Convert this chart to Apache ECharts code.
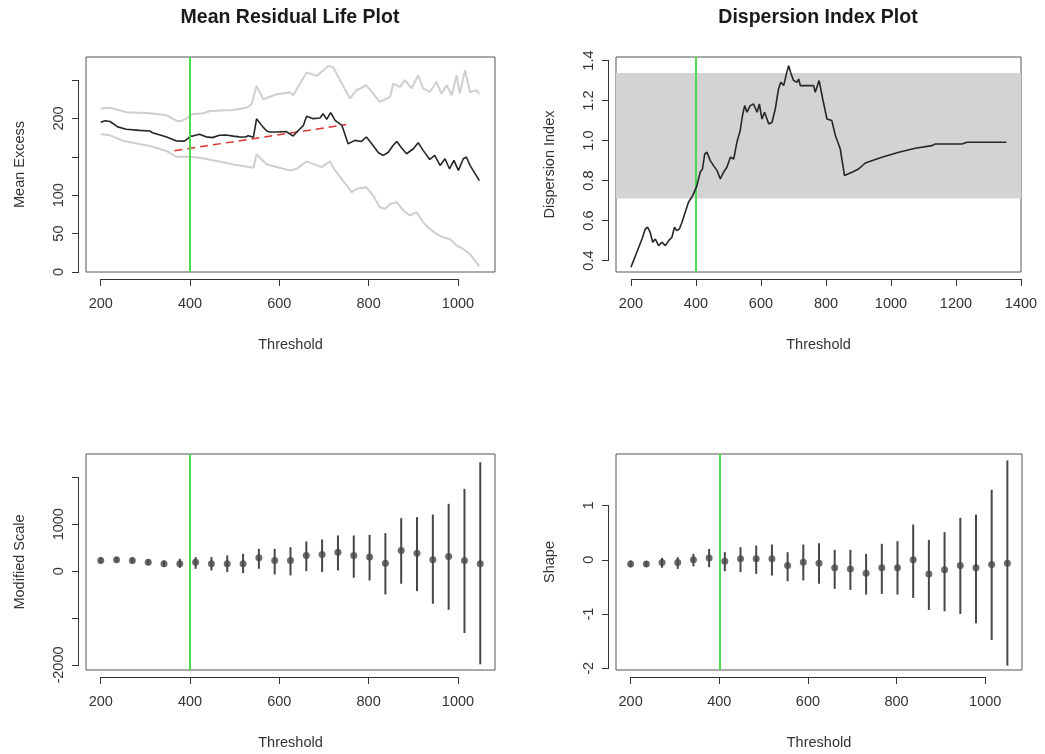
<!DOCTYPE html>
<html>
<head>
<meta charset="utf-8">
<script src="https://cdn.jsdelivr.net/npm/echarts@6.0.0/dist/echarts.min.js"></script>
<style>
  html, body { margin: 0; padding: 0; background: #ffffff; }
  #chart { width: 1045px; height: 754px; }
</style>
</head>
<body>
<div id="chart"></div>
<script>
// ---------- Mean residual life (mean excess over threshold) ----------
const mrlMeanX = [200, 210, 221, 238, 251, 257, 287, 310, 316, 346, 370, 387, 395, 400, 406, 421, 436, 450, 466, 480, 497, 510, 525, 530, 542,
  549, 563, 572, 578, 601, 615, 631, 639, 654, 661, 676, 691, 698, 706, 715, 725, 740, 754, 769, 784, 795, 807, 822, 833, 844, 855,
  863, 874, 885, 900, 911, 922, 937, 948, 960, 971, 981, 991, 1001, 1012, 1019, 1027, 1048];
const mrlMeanY = [195, 197, 196, 189, 187, 186, 184.5, 183.6, 181.4, 176, 170.6, 170.4, 173.6, 177, 177, 179.5, 176, 175, 178, 178.5, 177, 176, 175.8, 177.5, 175.5,
  199.5, 189, 183.6, 182.3, 182.5, 183, 177, 182.3, 191, 202.8, 199.7, 200.6, 206.2, 198.8, 207.5, 197.5, 191, 167, 171.4, 170, 175.8, 167, 155.3, 151.8, 156, 165,
  170, 161.4, 154, 160.5, 168.4, 158.4, 146.6, 151.8, 138.8, 147.5, 134.4, 145.3, 132.3, 147.5, 149.7, 138.8, 119];

const mrlUpperX = [200, 221, 258, 310, 348, 370, 381, 392, 404, 430, 445, 497, 527, 538, 549, 564, 594, 624, 631, 661, 684, 710, 721,
  758, 773, 795, 807, 825, 848, 855, 870, 881, 896, 911, 922, 937, 952, 963, 975, 986, 997, 1004, 1016, 1027, 1042, 1048];
const mrlUpperY = [212.8, 214, 208, 206.7, 204, 196.7, 196.7, 199.7, 205.4, 206.7, 209.7, 211, 214, 218.4, 242.4, 225, 231.5, 233.7, 230.2, 259.8, 255.4, 268.5, 266.3,
  225.8, 236.7, 243.2, 234.5, 221.5, 228, 245.4, 241, 249.8, 239, 256.3, 239, 234.5, 247.6, 232.3, 243.2, 230.2, 256.3, 232.3, 262.8, 234.5, 236.7, 232];

const mrlLowerX = [200, 221, 251, 310, 348, 370, 393, 422, 460, 497, 542, 549, 572, 624, 639, 661, 684, 695, 713, 725, 762, 773, 795,
  810, 825, 837, 848, 863, 878, 892, 907, 922, 937, 952, 967, 982, 997, 1012, 1027, 1048];
const mrlLowerY = [179.3, 178, 170.6, 164, 157.5, 150, 150, 148.8, 144.5, 140, 135.7, 153, 140, 132.3, 134.4, 144, 138.8, 136.6, 144, 132.3, 104, 108.3, 110.5,
  99.6, 84.4, 82.2, 88.7, 90.9, 80, 73.5, 77.8, 64.8, 56.1, 49.6, 45.2, 43, 34.3, 30, 23.4, 7.4];

// linear fit above the chosen threshold
const mrlFitX = [365, 750];
const mrlFitY = [158, 192];

// ---------- Dispersion index ----------
const diX = [200, 218, 234, 244, 251, 259, 267, 275, 285, 295, 306, 316, 326, 334, 341, 349, 357, 367, 377, 390, 403, 413, 420, 427, 434,
  444, 454, 465, 475, 485, 495, 506, 516, 526, 536, 544, 550, 557, 567, 577, 588, 595, 603, 611, 624, 634, 644, 654, 661, 670, 677,
  685, 691, 700, 711, 716, 721, 762, 767, 772, 779, 790, 803, 818, 829, 844, 857, 880, 900, 921, 972, 1024, 1075, 1126, 1136, 1218, 1234, 1355];
const diY = [0.367, 0.442, 0.508, 0.558, 0.567, 0.542, 0.492, 0.508, 0.475, 0.492, 0.475, 0.5, 0.517, 0.567, 0.55, 0.558, 0.592, 0.642, 0.692, 0.725, 0.775, 0.842, 0.858, 0.933, 0.942,
  0.9, 0.875, 0.85, 0.808, 0.842, 0.867, 0.917, 0.908, 0.992, 1.05, 1.133, 1.175, 1.142, 1.175, 1.183, 1.142, 1.183, 1.108, 1.142, 1.083, 1.092, 1.158, 1.258, 1.292, 1.275, 1.325,
  1.375, 1.342, 1.3, 1.292, 1.308, 1.275, 1.275, 1.242, 1.233, 1.3, 1.208, 1.108, 1.1, 1.025, 0.958, 0.825, 0.842, 0.858, 0.888, 0.917, 0.942, 0.962, 0.975, 0.983, 0.983, 0.992, 0.992];
const diBand = [0.71, 1.338];

// ---------- Parameter stability (fits over 25 thresholds) ----------
const fitThresholds = [200, 235.4, 270.8, 306.3, 341.7, 377.1, 412.5, 447.9, 483.3, 518.8, 554.2, 589.6, 625,
  660.4, 695.8, 731.3, 766.7, 802.1, 837.5, 872.9, 908.3, 943.8, 979.2, 1014.6, 1050];

const scaleEst = [228, 242, 228, 192, 157, 157, 192, 157, 157, 157, 285, 228, 228, 334, 356, 405, 334, 299, 171, 441, 384, 242, 313, 228, 157];
const scaleHi  = [290, 300, 290, 255, 225, 263, 299, 299, 334, 370, 476, 476, 511, 632, 675, 760, 760, 774, 809, 1128, 1150, 1207, 1434, 1753, 2320];
const scaleLo  = [166, 184, 166, 130, 90, 72, 51, 15, -20, -42, 51, -70, -91, 1, -20, 15, -141, -198, -496, -269, -425, -694, -822, -1318, -1985];

const shapeEst = [-0.075, -0.075, -0.05, -0.05, 0, 0.036, -0.025, 0.018, 0.018, 0.018, -0.105, -0.044, -0.062, -0.148, -0.167, -0.247, -0.148, -0.148, 0, -0.259, -0.185, -0.105, -0.148, -0.087, -0.062];
const shapeHi  = [-0.013, -0.02, 0.036, 0.048, 0.11, 0.2, 0.141, 0.233, 0.264, 0.282, 0.141, 0.282, 0.307, 0.184, 0.184, 0.11, 0.295, 0.344, 0.651, 0.368, 0.51, 0.774, 0.836, 1.291, 1.832];
const shapeLo  = [-0.136, -0.13, -0.146, -0.167, -0.12, -0.136, -0.21, -0.228, -0.259, -0.29, -0.394, -0.38, -0.443, -0.536, -0.554, -0.64, -0.628, -0.64, -0.702, -0.923, -0.948, -0.997, -1.169, -1.477, -1.95];

const chosenThreshold = 400;

// ---------- tick positions and labels ----------
const xTicks1000 = [200, 400, 600, 800, 1000];
const xTicks1400 = [200, 400, 600, 800, 1000, 1200, 1400];
const mrlYTicks = [0, 50, 100, 150, 200, 250];
const mrlYLabels = [0, 50, 100, 200];
const diYTicks = [0.4, 0.6, 0.8, 1.0, 1.2, 1.4];
const scaleYTicks = [-2000, -1000, 0, 1000, 2000];
const scaleYLabels = [-2000, 0, 1000];
const shapeYTicks = [-2, -1, 0, 1];

// ---------- styling ----------
const FONT = '"Liberation Sans", Arial, sans-serif';
const FS = 14.5;
const INK = '#333333';
const FRAME = '#555555';
const AXIS_OFFSET = 7;
const GREEN = '#4cdb4c';

const grids = [
  { left: 86, top: 57, width: 409, height: 215 },
  { left: 616, top: 57, width: 405, height: 215 },
  { left: 86, top: 454, width: 409, height: 216 },
  { left: 616, top: 454, width: 406, height: 216 }
].map(g => Object.assign({ show: true, borderColor: FRAME, borderWidth: 1, backgroundColor: 'transparent', containLabel: false }, g));

const zip = (xs, ys) => xs.map((x, i) => [x, ys[i]]);

function xAxisCfg(gi, min, max, ticks) {
  return {
    gridIndex: gi, type: 'value', min: min, max: max, offset: AXIS_OFFSET,
    name: 'Threshold', nameLocation: 'middle', nameGap: 58,
    nameTextStyle: { fontFamily: FONT, fontSize: FS, color: INK },
    axisLine: { show: false, onZero: false }, splitLine: { show: false },
    axisTick: { show: true, inside: false, length: 7, customValues: ticks, lineStyle: { color: INK, width: 1 } },
    axisLabel: { customValues: ticks, margin: 17, fontFamily: FONT, fontSize: FS, color: INK, formatter: v => String(v) }
  };
}

function yAxisCfg(gi, min, max, ticks, labels, name, fmt) {
  return {
    gridIndex: gi, type: 'value', min: min, max: max, offset: AXIS_OFFSET,
    name: name, nameLocation: 'middle', nameRotate: 90, nameGap: 52,
    nameTextStyle: { fontFamily: FONT, fontSize: FS, color: INK },
    axisLine: { show: false, onZero: false }, splitLine: { show: false },
    axisTick: { show: true, inside: false, length: 7, customValues: ticks, lineStyle: { color: INK, width: 1 } },
    axisLabel: { customValues: labels, rotate: 90, margin: 13, fontFamily: FONT, fontSize: FS, color: INK,
      formatter: fmt || (v => String(v)) }
  };
}

// axis lines spanning only the first-to-last tick, set off from the plot frame
function axisLines(gi, xFirst, xLast, yFirst, yLast) {
  return {
    type: 'custom', xAxisIndex: gi, yAxisIndex: gi, silent: true, clip: false, z: 1,
    data: [[xFirst, yFirst]],
    renderItem: function (params, api) {
      const cs = params.coordSys;
      const bx0 = api.coord([xFirst, yFirst])[0];
      const bx1 = api.coord([xLast, yFirst])[0];
      const ly0 = api.coord([xFirst, yFirst])[1];
      const ly1 = api.coord([xFirst, yLast])[1];
      const by = Math.round(cs.y + cs.height + AXIS_OFFSET) + 0.5;
      const lx = Math.round(cs.x - AXIS_OFFSET) - 0.5;
      const st = { stroke: INK, lineWidth: 1 };
      return {
        type: 'group', children: [
          { type: 'line', shape: { x1: bx0, y1: by, x2: bx1, y2: by }, style: st },
          { type: 'line', shape: { x1: lx, y1: ly0, x2: lx, y2: ly1 }, style: st }
        ]
      };
    }
  };
}

function errorBars(gi, xs, lo, hi) {
  return {
    type: 'custom', xAxisIndex: gi, yAxisIndex: gi, silent: true, z: 3,
    data: xs.map((x, i) => [x, lo[i], hi[i]]),
    renderItem: function (params, api) {
      const a = api.coord([api.value(0), api.value(1)]);
      const b = api.coord([api.value(0), api.value(2)]);
      return { type: 'line', shape: { x1: a[0], y1: a[1], x2: b[0], y2: b[1] },
        style: { stroke: '#474747', lineWidth: 2 } };
    }
  };
}

const thresholdMark = {
  silent: true, symbol: ['none', 'none'], label: { show: false },
  lineStyle: { color: GREEN, width: 2, type: 'solid' },
  data: [{ xAxis: chosenThreshold }]
};

const option = {
  animation: false,
  backgroundColor: '#ffffff',
  grid: grids,
  xAxis: [
    xAxisCfg(0, 167, 1083, xTicks1000),
    xAxisCfg(1, 154, 1400, xTicks1400),
    xAxisCfg(2, 167, 1083, xTicks1000),
    xAxisCfg(3, 167, 1083, xTicks1000)
  ],
  yAxis: [
    yAxisCfg(0, 0, 280, mrlYTicks, mrlYLabels, 'Mean Excess'),
    yAxisCfg(1, 0.343, 1.418, diYTicks, diYTicks, 'Dispersion Index', v => v.toFixed(1)),
    yAxisCfg(2, -2106, 2496, scaleYTicks, scaleYLabels, 'Modified Scale'),
    yAxisCfg(3, -2.03, 1.95, shapeYTicks, shapeYTicks, 'Shape')
  ],
  graphic: [
    { type: 'text', x: 290, y: 18, style: { text: 'Mean Residual Life Plot', align: 'center', verticalAlign: 'middle',
      font: 'bold 19.5px ' + FONT, fill: '#1a1a1a' } },
    { type: 'text', x: 818, y: 18, style: { text: 'Dispersion Index Plot', align: 'center', verticalAlign: 'middle',
      font: 'bold 19.5px ' + FONT, fill: '#1a1a1a' } }
  ],
  series: [
    axisLines(0, 200, 1000, 0, 250),
    axisLines(1, 200, 1400, 0.4, 1.4),
    axisLines(2, 200, 1000, -2000, 2000),
    axisLines(3, 200, 1000, -2, 1),

    // mean residual life
    { type: 'line', xAxisIndex: 0, yAxisIndex: 0, data: zip(mrlUpperX, mrlUpperY), showSymbol: false, silent: true, z: 2,
      lineStyle: { color: '#cfcfcf', width: 2 } },
    { type: 'line', xAxisIndex: 0, yAxisIndex: 0, data: zip(mrlLowerX, mrlLowerY), showSymbol: false, silent: true, z: 2,
      lineStyle: { color: '#cfcfcf', width: 2 } },
    { type: 'line', xAxisIndex: 0, yAxisIndex: 0, data: zip(mrlFitX, mrlFitY), showSymbol: false, silent: true, z: 3,
      lineStyle: { color: '#dd3333', width: 1.5, type: [8, 5] } },
    { type: 'line', xAxisIndex: 0, yAxisIndex: 0, data: zip(mrlMeanX, mrlMeanY), showSymbol: false, silent: true, z: 4,
      lineStyle: { color: '#262626', width: 1.6 }, markLine: thresholdMark },

    // dispersion index: band and threshold carried by a hidden copy beneath the line
    { type: 'line', xAxisIndex: 1, yAxisIndex: 1, data: zip(diX, diY), showSymbol: false, silent: true, z: 1,
      lineStyle: { opacity: 0 },
      markArea: { silent: true, itemStyle: { color: '#d3d3d3', opacity: 1 }, data: [[{ yAxis: diBand[0] }, { yAxis: diBand[1] }]] },
      markLine: thresholdMark },
    { type: 'line', xAxisIndex: 1, yAxisIndex: 1, data: zip(diX, diY), showSymbol: false, silent: true, z: 5,
      lineStyle: { color: '#262626', width: 1.6 } },

    // modified scale
    errorBars(2, fitThresholds, scaleLo, scaleHi),
    { type: 'scatter', xAxisIndex: 2, yAxisIndex: 2, data: zip(fitThresholds, scaleEst), symbol: 'circle', symbolSize: 7,
      silent: true, z: 4, itemStyle: { color: '#474747' }, markLine: thresholdMark },

    // shape
    errorBars(3, fitThresholds, shapeLo, shapeHi),
    { type: 'scatter', xAxisIndex: 3, yAxisIndex: 3, data: zip(fitThresholds, shapeEst), symbol: 'circle', symbolSize: 7,
      silent: true, z: 4, itemStyle: { color: '#474747' }, markLine: thresholdMark }
  ]
};

const chart = echarts.init(document.getElementById('chart'), null, { renderer: 'canvas' });
chart.setOption(option);
</script>
</body>
</html>
